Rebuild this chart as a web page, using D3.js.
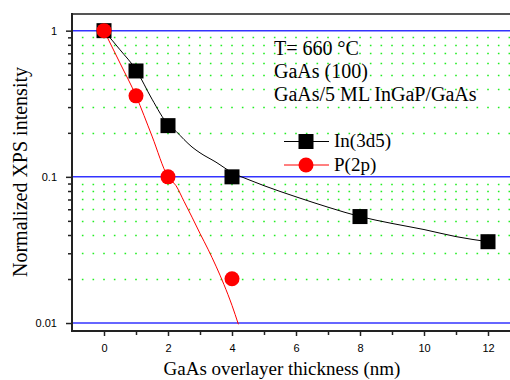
<!DOCTYPE html>
<html>
<head>
<meta charset="utf-8">
<script src="https://cdn.jsdelivr.net/npm/d3@7"></script>
<style>
  html, body { margin: 0; padding: 0; background: #fff; }
  svg { display: block; }
  .tick text { font-family: "Liberation Sans", Arial, sans-serif; font-size: 11px; fill: #000; }
  .serif { font-family: "Liberation Serif", "Times New Roman", serif; font-size: 19px; fill: #000; }
  .big { font-size: 20px; }
</style>
</head>
<body>
<svg id="chart" width="510" height="380"></svg>
<script>
// measured points
const inThickness = [0, 1, 2, 4, 8, 12];
const inIntensity = [1.0, 0.53, 0.224, 0.1, 0.0535, 0.036];
const pThickness = [0, 1, 2, 4];
const pIntensity = [1.0, 0.358, 0.1, 0.0201];

// fitted curves
const inFitX = [0, 0.5, 1, 1.5, 2, 2.25, 2.5, 2.75, 3, 3.5, 4, 4.5, 5, 6, 7, 8, 9, 10, 11, 12];
const inFitY = [1.0, 0.74, 0.54, 0.34, 0.228, 0.205, 0.18, 0.16, 0.146, 0.126, 0.107, 0.096, 0.087, 0.073, 0.062, 0.0535, 0.048, 0.0436, 0.039, 0.036];
const pFitX = [0, 0.5, 1, 1.5, 2, 2.25, 2.5, 2.75, 3, 3.25, 3.5, 3.75, 4, 4.2];
const pFitY = [1.0, 0.6, 0.358, 0.19, 0.1, 0.087, 0.068, 0.053, 0.041, 0.032, 0.0245, 0.0183, 0.0132, 0.0098];

const xMajorTicks = [0, 2, 4, 6, 8, 10, 12];
const xMinorTicks = [1, 3, 5, 7, 9, 11];
const yMajorTicks = [1, 0.1, 0.01];
const yMajorLabels = ['1', '0.1', '0.01'];
const yMinorTicks = [0.02, 0.03, 0.04, 0.05, 0.06, 0.07, 0.08, 0.09, 0.2, 0.3, 0.4, 0.5, 0.6, 0.7, 0.8, 0.9];

const legendNames = ['In(3d5)', 'P(2p)'];
const notes = ['T= 660 °C', 'GaAs (100)', 'GaAs/5 ML InGaP/GaAs'];

const svg = d3.select('#chart');
const plotLeft = 72, plotTop = 14, plotBottom = 331;

const x = d3.scaleLinear().domain([-1, 13]).range([plotLeft, plotLeft + 14 * 32]);
const y = d3.scaleLog().domain([0.00882, 1.3]).range([plotBottom, plotTop]);

svg.append('defs').append('clipPath').attr('id', 'plot')
  .append('rect').attr('x', plotLeft).attr('y', plotTop).attr('width', 510 - plotLeft).attr('height', plotBottom - plotTop);

// green dotted minor grid
svg.append('g')
  .selectAll('line')
  .data(yMinorTicks)
  .join('line')
  .attr('x1', x(-1))
  .attr('x2', 510)
  .attr('y1', (d) => Math.round(y(d)) + 0.5)
  .attr('y2', (d) => Math.round(y(d)) + 0.5)
  .attr('stroke', '#22ee22')
  .attr('stroke-width', 1.6)
  .attr('stroke-dasharray', '1.6 9.067')
  .attr('stroke-dashoffset', 0.8);

// blue decade lines
svg.append('g')
  .selectAll('line')
  .data(yMajorTicks)
  .join('line')
  .attr('x1', plotLeft)
  .attr('x2', 510)
  .attr('y1', (d) => y(d))
  .attr('y2', (d) => y(d))
  .attr('stroke', '#3333ff')
  .attr('stroke-width', 1.5);

// frame top
svg.append('line')
  .attr('x1', plotLeft).attr('x2', 510).attr('y1', plotTop).attr('y2', plotTop)
  .attr('stroke', '#555').attr('stroke-width', 2);

// axes
const xAxis = svg.append('g')
  .attr('transform', `translate(0,${plotBottom})`)
  .call(d3.axisBottom(x).tickValues(xMajorTicks).tickSize(5).tickPadding(8).tickFormat(d3.format('d')));
xAxis.select('.domain').remove();
svg.append('g')
  .attr('transform', `translate(0,${plotBottom})`)
  .call(d3.axisBottom(x).tickValues(xMinorTicks).tickSize(4).tickFormat(''))
  .select('.domain').remove();

const yAxis = svg.append('g')
  .attr('transform', `translate(${plotLeft},0)`)
  .call(d3.axisLeft(y).tickValues(yMajorTicks).tickSize(6).tickPadding(9)
    .tickFormat((d, i) => yMajorLabels[i]));
yAxis.select('.domain').remove();
svg.append('g')
  .attr('transform', `translate(${plotLeft},0)`)
  .call(d3.axisLeft(y).tickValues(yMinorTicks).tickSize(4).tickFormat(''))
  .select('.domain').remove();
svg.selectAll('.tick line').attr('stroke', '#222').attr('stroke-width', 1.5);

svg.append('line')
  .attr('x1', plotLeft).attr('x2', plotLeft).attr('y1', plotTop - 1).attr('y2', plotBottom + 1)
  .attr('stroke', '#222').attr('stroke-width', 2);
svg.append('line')
  .attr('x1', plotLeft - 1).attr('x2', 510).attr('y1', plotBottom).attr('y2', plotBottom)
  .attr('stroke', '#222').attr('stroke-width', 2);

// curves
const line = d3.line().x((d) => x(d[0])).y((d) => y(d[1])).curve(d3.curveMonotoneX);
const curves = svg.append('g').attr('clip-path', 'url(#plot)');
curves.append('path')
  .datum(d3.zip(inFitX, inFitY))
  .attr('d', line).attr('fill', 'none').attr('stroke', '#000').attr('stroke-width', 1);
curves.append('path')
  .datum(d3.zip(pFitX, pFitY))
  .attr('d', line).attr('fill', 'none').attr('stroke', '#ff0000').attr('stroke-width', 1);

// markers
svg.append('g')
  .selectAll('rect')
  .data(d3.zip(inThickness, inIntensity))
  .join('rect')
  .attr('x', (d) => x(d[0]) - 7.5)
  .attr('y', (d) => y(d[1]) - 7.5)
  .attr('width', 15)
  .attr('height', 15)
  .attr('fill', '#000');
svg.append('g')
  .selectAll('circle')
  .data(d3.zip(pThickness, pIntensity))
  .join('circle')
  .attr('cx', (d) => x(d[0]))
  .attr('cy', (d) => y(d[1]))
  .attr('r', 7.5)
  .attr('fill', '#ff0000');

// legend
const legend = svg.append('g').attr('transform', 'translate(284,0)');
legend.append('line').attr('x1', 0).attr('x2', 45).attr('y1', 141.5).attr('y2', 141.5).attr('stroke', '#000');
legend.append('rect').attr('x', 14.5).attr('y', 134).attr('width', 15).attr('height', 15).attr('fill', '#000');
legend.append('line').attr('x1', 0).attr('x2', 45).attr('y1', 165).attr('y2', 165).attr('stroke', '#ff0000');
legend.append('circle').attr('cx', 22).attr('cy', 165).attr('r', 7.5).attr('fill', '#ff0000');
legend.selectAll('text.lg')
  .data(legendNames)
  .join('text')
  .attr('class', 'serif lg')
  .attr('x', 50)
  .attr('y', (d, i) => 147 + i * 23.5)
  .text((d) => d);

// annotation
svg.append('g')
  .selectAll('text')
  .data(notes)
  .join('text')
  .attr('class', 'serif big')
  .attr('x', 274)
  .attr('y', (d, i) => 55 + i * 23)
  .text((d) => d);

// axis titles
svg.append('text')
  .attr('class', 'serif')
  .attr('x', 282)
  .attr('y', 375)
  .attr('text-anchor', 'middle')
  .text('GaAs overlayer thickness (nm)');
svg.append('text')
  .attr('class', 'serif big')
  .attr('transform', 'translate(27,172) rotate(-90)')
  .attr('text-anchor', 'middle')
  .text('Normalized XPS intensity');
</script>
</body>
</html>
